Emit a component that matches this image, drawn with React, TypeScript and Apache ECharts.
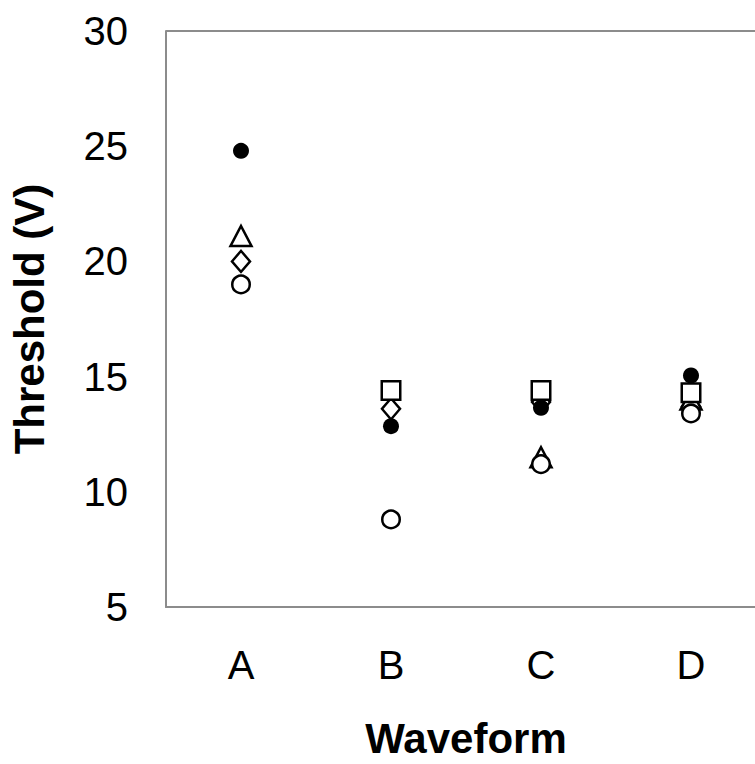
import React, { useEffect, useRef } from "react";
import * as echarts from "echarts";

const categories = ["A", "B", "C", "D"];
const yTicks = [5, 10, 15, 20, 25, 30];
const filledCircle = [24.8, 12.85, 13.65, 15.05];
const triangle = [21.1, null, 11.5, 14.0];
const diamond = [20.0, 13.6, 13.9, 13.7];
const openCircle = [19.0, 8.8, 11.2, 13.4];
const square = [null, 14.4, 14.4, 14.3];

const FONT = "'Liberation Sans', Arial, sans-serif";

export default function App() {
  const ref = useRef<HTMLDivElement>(null);
  useEffect(() => {
    if (!ref.current) return;
    const chart = echarts.init(ref.current, undefined, { renderer: "svg" });
    const open = { color: "#ffffff", borderColor: "#000000", borderWidth: 2.5, opacity: 1 };
    const mk = (name: string, data: any[], symbol: string, size: any, style: any) => ({
      name,
      type: "scatter",
      data,
      symbol,
      symbolSize: size,
      itemStyle: style,
      emphasis: { disabled: true },
    });
    chart.setOption({
      animation: false,
      textStyle: { fontFamily: FONT },
      grid: { left: 166, top: 31, width: 600, height: 577, show: false },
      xAxis: {
        type: "category",
        data: categories,
        boundaryGap: true,
        axisLine: { show: true, lineStyle: { color: "#8c8c8c", width: 2 } },
        axisTick: { show: false },
        axisLabel: { color: "#000", fontSize: 40, margin: 38, fontFamily: FONT },
        name: "Waveform",
        nameLocation: "middle",
        nameGap: 110,
        nameTextStyle: { color: "#000", fontSize: 42, fontWeight: "bold", fontFamily: FONT },
      },
      yAxis: {
        type: "value",
        min: yTicks[0],
        max: yTicks[yTicks.length - 1],
        interval: 5,
        axisLine: { show: true, lineStyle: { color: "#8c8c8c", width: 2 } },
        axisTick: { show: false },
        splitLine: { show: false },
        axisLabel: { color: "#000", fontSize: 40, margin: 38, fontFamily: FONT },
        name: "Threshold (V)",
        nameLocation: "middle",
        nameGap: 116,
        nameTextStyle: { color: "#000", fontSize: 42, fontWeight: "bold", fontFamily: FONT },
      },
      graphic: [
        {
          type: "line",
          shape: { x1: 166, y1: 31, x2: 780, y2: 31 },
          style: { stroke: "#8c8c8c", lineWidth: 2 },
          z: 1,
        },
      ],
      series: [
        mk("Diamond", diamond, "diamond", [18, 21], open),
        mk("Triangle", triangle, "triangle", [21, 20], open),
        mk("Filled circle", filledCircle, "circle", 16, { color: "#000", opacity: 1 }),
        mk("Open circle", openCircle, "circle", 17.5, open),
        mk("Square", square, "rect", 18.5, open),
      ],
    });
    return () => chart.dispose();
  }, []);
  return (
    <div style={{ position: "fixed", left: 0, top: 0, width: 755, height: 764, overflow: "hidden", background: "#fff" }}>
      <div ref={ref} style={{ width: 790, height: 764 }} />
    </div>
  );
}
